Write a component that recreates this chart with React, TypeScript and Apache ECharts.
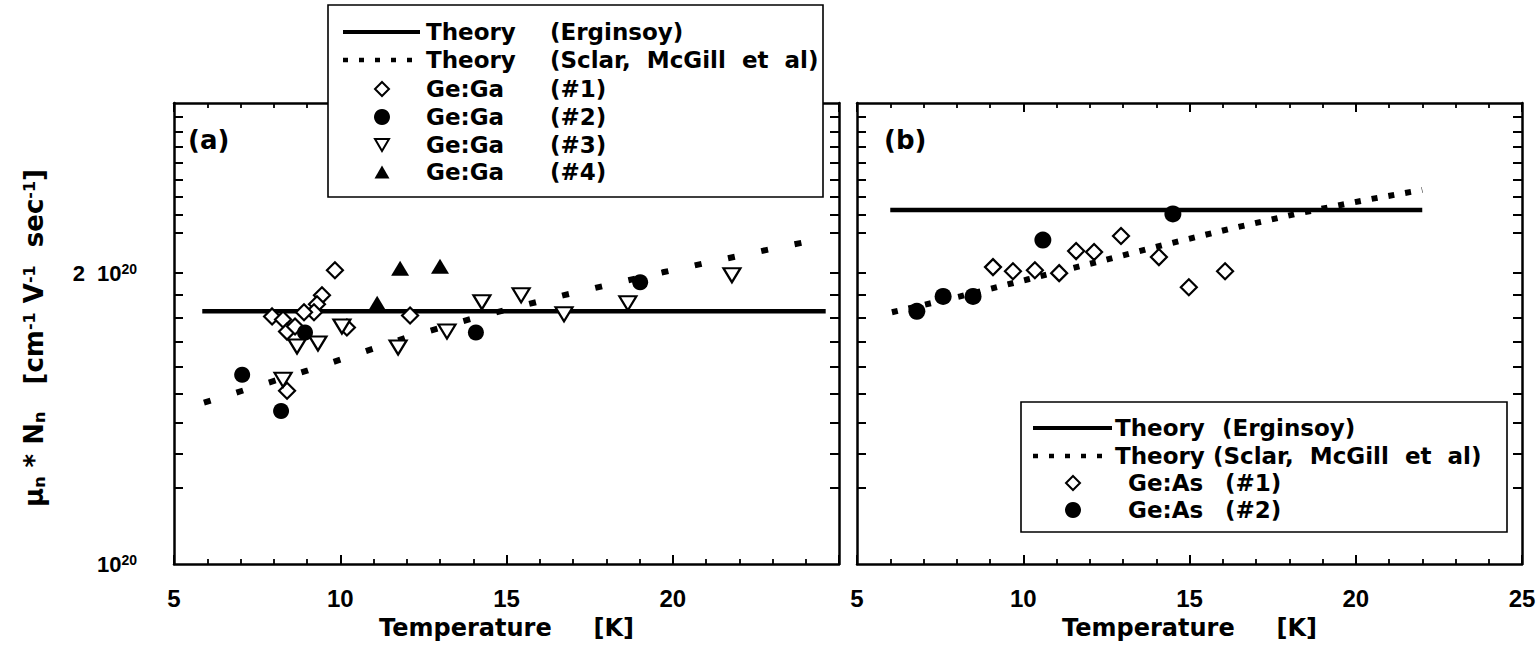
import React, { useEffect, useRef } from "react";
import * as echarts from "echarts";

// ---------- data (values in units of 10^20 cm^-1 V^-1 s^-1) ----------
// panel (a): Ge:Ga
const A_ERG_T = [5.85, 24.6];
const A_ERG_V = [1.826, 1.826];
const A_SCL_T = [5.9, 9.0, 12.1, 14.1, 16.7, 19.7, 22.8, 24.6];
const A_SCL_V = [1.469, 1.585, 1.72, 1.8, 1.897, 2.004, 2.113, 2.175];

const GA1_T = [9.84, 9.45, 9.3, 9.21, 8.91, 7.95, 8.28, 8.4, 8.64, 10.2, 12.1, 8.4];
const GA1_V = [2.014, 1.897, 1.857, 1.822, 1.822, 1.804, 1.791, 1.74, 1.761, 1.757, 1.808, 1.511];
const GA2_T = [7.05, 8.22, 8.94, 14.08, 19.02];
const GA2_V = [1.57, 1.44, 1.736, 1.736, 1.957];
const GA3_T = [8.7, 9.33, 10.05, 11.74, 13.21, 14.26, 8.28, 15.44, 16.73, 18.65, 21.78];
const GA3_V = [1.679, 1.691, 1.761, 1.675, 1.74, 1.866, 1.551, 1.897, 1.813, 1.861, 1.99];
const GA4_T = [11.11, 11.8, 13.0];
const GA4_V = [1.861, 2.024, 2.033];

// panel (b): Ge:As
const B_ERG_T = [6.0, 22.0];
const B_ERG_V = [2.325, 2.325];
const B_SCL_T = [6.05, 8.1, 10.15, 12.2, 14.2, 16.2, 18.2, 20.3, 22.0];
const B_SCL_V = [1.822, 1.892, 1.971, 2.053, 2.138, 2.222, 2.303, 2.381, 2.439];

const AS1_T = [9.09, 9.69, 10.35, 11.08, 11.59, 12.13, 12.94, 14.08, 14.98, 16.07];
const AS1_V = [2.029, 2.009, 2.014, 2.0, 2.108, 2.103, 2.185, 2.078, 1.934, 2.009];
const AS2_T = [6.8, 7.59, 8.49, 10.59, 14.5];
const AS2_V = [1.826, 1.892, 1.892, 2.164, 2.303];

// axis ticks / labels
const X_MIN = 5;
const X_MAX = 25;
const Y_MIN = 1;
const Y_MAX = 3;
const Y_TICKS = [1.2, 1.3, 1.4, 1.5, 1.6, 1.7, 1.8, 1.9, 2.0, 2.2, 2.3, 2.4, 2.5, 2.6, 2.7, 2.8, 2.9];
const Y_LABELS = [1, 2];

const LEGEND_A = [
  ["Theory", "(Erginsoy)"],
  ["Theory", "(Sclar,  McGill  et  al)"],
  ["Ge:Ga", "(#1)"],
  ["Ge:Ga", "(#2)"],
  ["Ge:Ga", "(#3)"],
  ["Ge:Ga", "(#4)"],
];
const LEGEND_B = [
  ["Theory", "(Erginsoy)"],
  ["Theory", "(Sclar,  McGill  et  al)"],
  ["Ge:As", "(#1)"],
  ["Ge:As", "(#2)"],
];

// ---------- styling ----------
const FONT_NUM = "'Liberation Sans', Arial, Helvetica, sans-serif";
const FONT_TXT = "'DejaVu Sans', 'Liberation Sans', sans-serif";
const BLACK = "#000";

const zip = (xs: number[], ys: number[]) => xs.map((x, i) => [x, ys[i]]);

const GRID_A = { left: 174, top: 103, width: 665, height: 461 };
const GRID_B = { left: 857, top: 103, width: 665, height: 461 };

function xAxis(gridIndex: number, position: string, hide25: boolean) {
  const bottom = position === "bottom";
  return {
    type: "value",
    gridIndex,
    position,
    min: X_MIN,
    max: X_MAX,
    interval: 5,
    name: bottom ? "Temperature     [K]" : "",
    nameLocation: "middle",
    nameGap: 52,
    nameTextStyle: { fontFamily: FONT_TXT, fontWeight: "bold", fontSize: 24, color: BLACK },
    axisLine: { show: true, onZero: false, lineStyle: { color: BLACK, width: 2.5 } },
    axisTick: { show: true, inside: true, length: 9, lineStyle: { color: BLACK, width: 2 } },
    minorTick: { show: true, splitNumber: 5, length: 5, lineStyle: { color: BLACK, width: 1.8 } },
    splitLine: { show: false },
    axisLabel: {
      show: bottom,
      margin: 22,
      fontFamily: FONT_NUM,
      fontWeight: "bold",
      fontSize: 24,
      color: BLACK,
      formatter: (v: number) => (hide25 && v === 25 ? "" : String(v)),
    },
  };
}

function yAxis(gridIndex: number, position: string, labels: boolean) {
  return {
    type: "log",
    logBase: 10,
    gridIndex,
    position,
    min: Y_MIN,
    max: Y_MAX,
    axisLine: { show: true, onZero: false, lineStyle: { color: BLACK, width: 2.5 } },
    axisTick: { show: true, inside: true, length: 9, customValues: Y_TICKS, lineStyle: { color: BLACK, width: 2 } },
    minorTick: { show: false },
    splitLine: { show: false },
    axisLabel: {
      show: labels,
      customValues: Y_LABELS,
      margin: 37,
      fontFamily: FONT_NUM,
      fontWeight: "bold",
      fontSize: 22,
      color: BLACK,
      formatter: (v: number) => (Math.abs(v - 1) < 1e-6 ? "{m|10}{s|20}" : "{m|2}{sp|}{m|10}{s|20}"),
      rich: {
        m: { fontFamily: FONT_NUM, fontWeight: "bold", fontSize: 22, color: BLACK },
        sp: { width: 12 },
        s: { fontFamily: FONT_NUM, fontWeight: "bold", fontSize: 14, color: BLACK, verticalAlign: "top" },
      },
    },
  };
}

function lineSeries(xi: number, data: number[][], width: number, dash: number[] | null) {
  return {
    type: "line",
    xAxisIndex: xi,
    yAxisIndex: xi,
    data,
    symbol: "none",
    silent: true,
    z: 2,
    lineStyle: { color: BLACK, width, opacity: 1, type: dash ? dash : "solid", cap: "butt" },
  };
}

function scatter(xi: number, data: number[][], symbol: string, size: number[], filled: boolean, rotate = 0) {
  return {
    type: "scatter",
    xAxisIndex: xi,
    yAxisIndex: xi,
    data,
    symbol,
    symbolSize: size,
    symbolRotate: rotate,
    silent: true,
    z: 3,
    itemStyle: filled
      ? { color: BLACK, borderColor: BLACK, borderWidth: 0, opacity: 1 }
      : { color: "#fff", borderColor: BLACK, borderWidth: 2.2, opacity: 1 },
  };
}

// legend drawing helpers (graphic elements)
function txt(x: number, y: number, text: string, size = 23, family = FONT_TXT) {
  return {
    type: "text",
    x,
    y,
    z: 102,
    style: {
      text,
      fontFamily: family,
      fontWeight: "bold",
      fontSize: size,
      fill: BLACK,
      align: "left",
      verticalAlign: "middle",
      textAlign: "left",
      textVerticalAlign: "middle",
    },
  };
}
function diamondShape(cx: number, cy: number, r: number) {
  return { type: "polygon", z: 102, shape: { points: [[cx, cy - r], [cx + r, cy], [cx, cy + r], [cx - r, cy]] }, style: { fill: "#fff", stroke: BLACK, lineWidth: 2 } };
}
function circleShape(cx: number, cy: number, r: number) {
  return { type: "circle", z: 102, shape: { cx, cy, r }, style: { fill: BLACK, stroke: BLACK, lineWidth: 0 } };
}
function triShape(cx: number, cy: number, w: number, h: number, down: boolean) {
  const pts = down
    ? [[cx - w / 2, cy - h / 2], [cx + w / 2, cy - h / 2], [cx, cy + h / 2]]
    : [[cx - w / 2, cy + h / 2], [cx + w / 2, cy + h / 2], [cx, cy - h / 2]];
  return { type: "polygon", z: 102, shape: { points: pts }, style: down ? { fill: "#fff", stroke: BLACK, lineWidth: 2 } : { fill: BLACK, stroke: BLACK, lineWidth: 0 } };
}
function sample(x1: number, x2: number, y: number, dotted: boolean) {
  return {
    type: "line",
    z: 102,
    shape: { x1, y1: y, x2, y2: y },
    style: dotted ? { stroke: BLACK, lineWidth: 4.5, lineDash: [5, 11] } : { stroke: BLACK, lineWidth: 4 },
  };
}

function buildLegend(box: number[], rows: number[], lx: number[], mx: number, col1: number[], col2: number[], entries: string[][], markers: any[]) {
  const els: any[] = [
    { type: "rect", z: 101, shape: { x: box[0], y: box[1], width: box[2], height: box[3] }, style: { fill: "#fff", stroke: BLACK, lineWidth: 1.6 } },
    sample(lx[0], lx[1], rows[0], false),
    sample(lx[0], lx[1], rows[1], true),
  ];
  markers.forEach((m, i) => els.push(m(mx, rows[i + 2])));
  entries.forEach((e, i) => {
    els.push(txt(col1[i], rows[i], e[0]));
    els.push(txt(col2[i], rows[i], e[1]));
  });
  return els;
}

const yTitle = {
  type: "text",
  x: 34,
  y: 338,
  rotation: Math.PI / 2,
  z: 102,
  style: {
    text: "{t|μ}{sub|n}{t| * N}{sub|n}{t|   [cm}{sup|-1}{t| V}{sup|-1}{t|  sec}{sup|-1}{t|]}",
    align: "center",
    verticalAlign: "middle",
    textAlign: "center",
    textVerticalAlign: "middle",
    fill: BLACK,
    rich: {
      t: { fontFamily: FONT_TXT, fontWeight: "bold", fontSize: 26, fill: BLACK, color: BLACK },
      sub: { fontFamily: FONT_TXT, fontWeight: "bold", fontSize: 16, fill: BLACK, color: BLACK, verticalAlign: "bottom" },
      sup: { fontFamily: FONT_TXT, fontWeight: "bold", fontSize: 16, fill: BLACK, color: BLACK, verticalAlign: "top" },
    },
  },
};

const legendA = buildLegend(
  [328, 5, 495, 192],
  [32, 60, 89, 117, 145, 172],
  [343, 420],
  382,
  [426, 426, 426, 426, 426, 426],
  [550, 550, 550, 550, 550, 550],
  LEGEND_A,
  [
    (x: number, y: number) => diamondShape(x, y, 7),
    (x: number, y: number) => circleShape(x, y, 8),
    (x: number, y: number) => triShape(x, y, 14, 12, true),
    (x: number, y: number) => triShape(x, y, 15, 13, false),
  ]
);
const legendB = buildLegend(
  [1021, 402, 486, 130],
  [428, 456, 483, 510],
  [1033, 1112],
  1073,
  [1115, 1115, 1128, 1128],
  [1222, 1213, 1225, 1225],
  LEGEND_B,
  [
    (x: number, y: number) => diamondShape(x, y, 7),
    (x: number, y: number) => circleShape(x, y, 8),
  ]
);

const option: any = {
  animation: false,
  backgroundColor: "#fff",
  grid: [
    { ...GRID_A, containLabel: false },
    { ...GRID_B, containLabel: false },
  ],
  xAxis: [xAxis(0, "bottom", true), xAxis(0, "top", true), xAxis(1, "bottom", false), xAxis(1, "top", false)],
  yAxis: [yAxis(0, "left", true), yAxis(0, "right", false), yAxis(1, "left", false), yAxis(1, "right", false)],
  series: [
    lineSeries(0, zip(A_ERG_T, A_ERG_V), 4.5, null),
    lineSeries(0, zip(A_SCL_T, A_SCL_V), 6, [7, 27]),
    scatter(0, zip(GA1_T, GA1_V), "diamond", [16, 16], false),
    scatter(0, zip(GA2_T, GA2_V), "circle", [16, 16], true),
    scatter(0, zip(GA3_T, GA3_V), "triangle", [17, 14], false, 180),
    scatter(0, zip(GA4_T, GA4_V), "triangle", [18, 15], true),
    lineSeries(2, zip(B_ERG_T, B_ERG_V), 4.5, null),
    lineSeries(2, zip(B_SCL_T, B_SCL_V), 6, [6, 11]),
    scatter(2, zip(AS1_T, AS1_V), "diamond", [16, 16], false),
    scatter(2, zip(AS2_T, AS2_V), "circle", [17, 17], true),
  ],
  graphic: [
    ...legendA,
    ...legendB,
    yTitle,
    txt(188, 140, "(a)", 26, FONT_TXT),
    txt(884, 140, "(b)", 26, FONT_TXT),
  ],
};

export default function App() {
  const ref = useRef<HTMLDivElement>(null);
  useEffect(() => {
    if (!ref.current) return;
    const chart = echarts.init(ref.current, null, { renderer: "svg" });
    chart.setOption(option);
    return () => chart.dispose();
  }, []);
  return (
    <div
      ref={ref}
      style={{ position: "fixed", left: 0, top: 0, width: 1540, height: 651, background: "#fff" }}
    />
  );
}
